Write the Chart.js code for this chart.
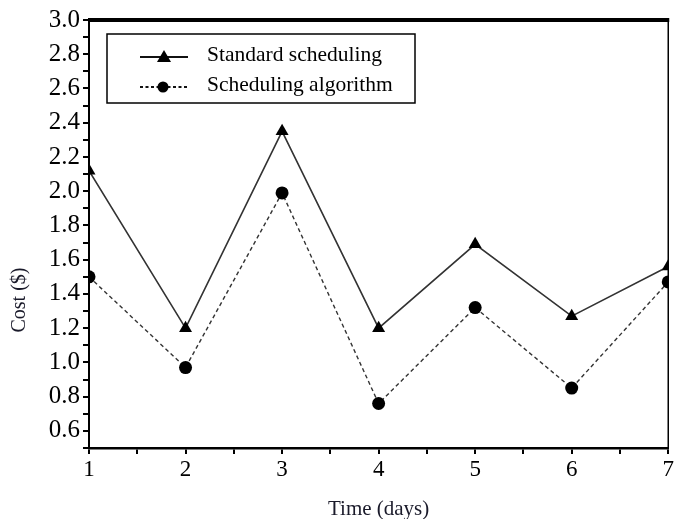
<!DOCTYPE html>
<html>
<head>
<meta charset="utf-8">
<script src="https://cdn.jsdelivr.net/npm/chart.js@4.4.0/dist/chart.umd.min.js"></script>
<style>
  html, body { margin: 0; padding: 0; background: #fff; }
  #wrap { width: 676px; height: 519px; }
</style>
</head>
<body>
<div id="wrap"><canvas id="costChart" width="676" height="519"></canvas></div>
<script>
const days = [1, 2, 3, 4, 5, 6, 7]
const standardCost = [2.12, 1.2, 2.35, 1.2, 1.69, 1.27, 1.56]
const algorithmCost = [1.5, 0.97, 1.99, 0.76, 1.32, 0.85, 1.47]
const seriesNames = ["Standard scheduling", "Scheduling algorithm"]

const serif = "'Liberation Serif', 'Times New Roman', serif"

// border on top/right plus the boxed legend
const frameAndLegend = {
  id: 'frameAndLegend',
  afterDraw(chart) {
    const ctx = chart.ctx
    const a = chart.chartArea
    ctx.save()
    ctx.strokeStyle = '#000'
    ctx.lineWidth = 4
    ctx.beginPath()
    ctx.moveTo(a.left - 1, a.top)
    ctx.lineTo(a.right + 1, a.top)
    ctx.stroke()
    ctx.lineWidth = 1.5
    ctx.beginPath()
    ctx.moveTo(a.right, a.top)
    ctx.lineTo(a.right, a.bottom)
    ctx.stroke()

    // legend box
    ctx.lineWidth = 1.5
    ctx.strokeRect(107, 34, 308, 69)
    ctx.font = '21.5px ' + serif
    ctx.fillStyle = '#000'
    ctx.textBaseline = 'middle'

    ctx.strokeStyle = '#111'
    ctx.lineWidth = 2
    ctx.beginPath()
    ctx.moveTo(140, 57); ctx.lineTo(188, 57)
    ctx.stroke()
    ctx.beginPath()
    ctx.moveTo(164, 50); ctx.lineTo(171, 62); ctx.lineTo(157, 62); ctx.closePath()
    ctx.fill()
    ctx.fillText(seriesNames[0], 207, 55)

    ctx.setLineDash([3, 2.5])
    ctx.beginPath()
    ctx.moveTo(140, 87); ctx.lineTo(188, 87)
    ctx.stroke()
    ctx.setLineDash([])
    ctx.beginPath()
    ctx.arc(163, 87, 5.5, 0, Math.PI * 2)
    ctx.fill()
    ctx.fillText(seriesNames[1], 207, 85)

    // y axis title, sits lower than centre in the original
    ctx.translate(20, 300)
    ctx.rotate(-Math.PI / 2)
    ctx.textAlign = 'center'
    ctx.font = '20px ' + serif
    ctx.fillStyle = '#1a1a2a'
    ctx.fillText('Cost ($)', 0, 0)
    ctx.restore()
  }
}

const ctxCost = document.getElementById('costChart').getContext('2d')

new Chart(ctxCost, {
  type: 'line',
  data: {
    datasets: [
      {
        label: seriesNames[0],
        data: days.map((d, i) => ({ x: d, y: standardCost[i] })),
        borderColor: '#333',
        borderWidth: 1.6,
        pointStyle: 'triangle',
        pointRadius: 7.5,
        pointBackgroundColor: '#000',
        pointBorderColor: '#000',
        pointBorderWidth: 0,
        tension: 0
      },
      {
        label: seriesNames[1],
        data: days.map((d, i) => ({ x: d, y: algorithmCost[i] })),
        borderColor: '#333',
        borderWidth: 1.4,
        borderDash: [4, 3],
        pointStyle: 'circle',
        pointRadius: 6.5,
        pointBackgroundColor: '#000',
        pointBorderColor: '#000',
        pointBorderWidth: 0,
        tension: 0
      }
    ]
  },
  options: {
    responsive: false,
    animation: false,
    layout: { padding: { top: 20, right: 7, left: 0, bottom: 0 } },
    plugins: {
      legend: { display: false },
      tooltip: { enabled: false }
    },
    scales: {
      x: {
        type: 'linear',
        min: 1,
        max: 7,
        afterFit(scale) { scale.height = 71 },
        border: { color: '#000', width: 2.5 },
        grid: { drawOnChartArea: false, color: '#000', lineWidth: 2, tickLength: 6 },
        ticks: {
          stepSize: 0.5,
          autoSkip: false,
          maxRotation: 0,
          padding: 2,
          color: '#000',
          font: { family: serif, size: 23 },
          callback: v => Number.isInteger(v) ? String(v) : ''
        },
        title: {
          display: true,
          text: 'Time (days)',
          color: '#1a1a2a',
          font: { family: serif, size: 21 },
          padding: { top: 0, bottom: -3 }
        }
      },
      y: {
        min: 0.5,
        max: 3.0,
        afterFit(scale) { scale.width = 89 },
        border: { color: '#000', width: 2 },
        grid: { drawOnChartArea: false, color: '#000', lineWidth: 2, tickLength: 6 },
        ticks: {
          stepSize: 0.1,
          autoSkip: false,
          padding: 3,
          color: '#000',
          font: { family: serif, size: 25 },
          callback: v => Math.round(v * 10) % 2 === 0 ? v.toFixed(1) : ''
        }
      }
    }
  },
  plugins: [frameAndLegend]
})
</script>
</body>
</html>
